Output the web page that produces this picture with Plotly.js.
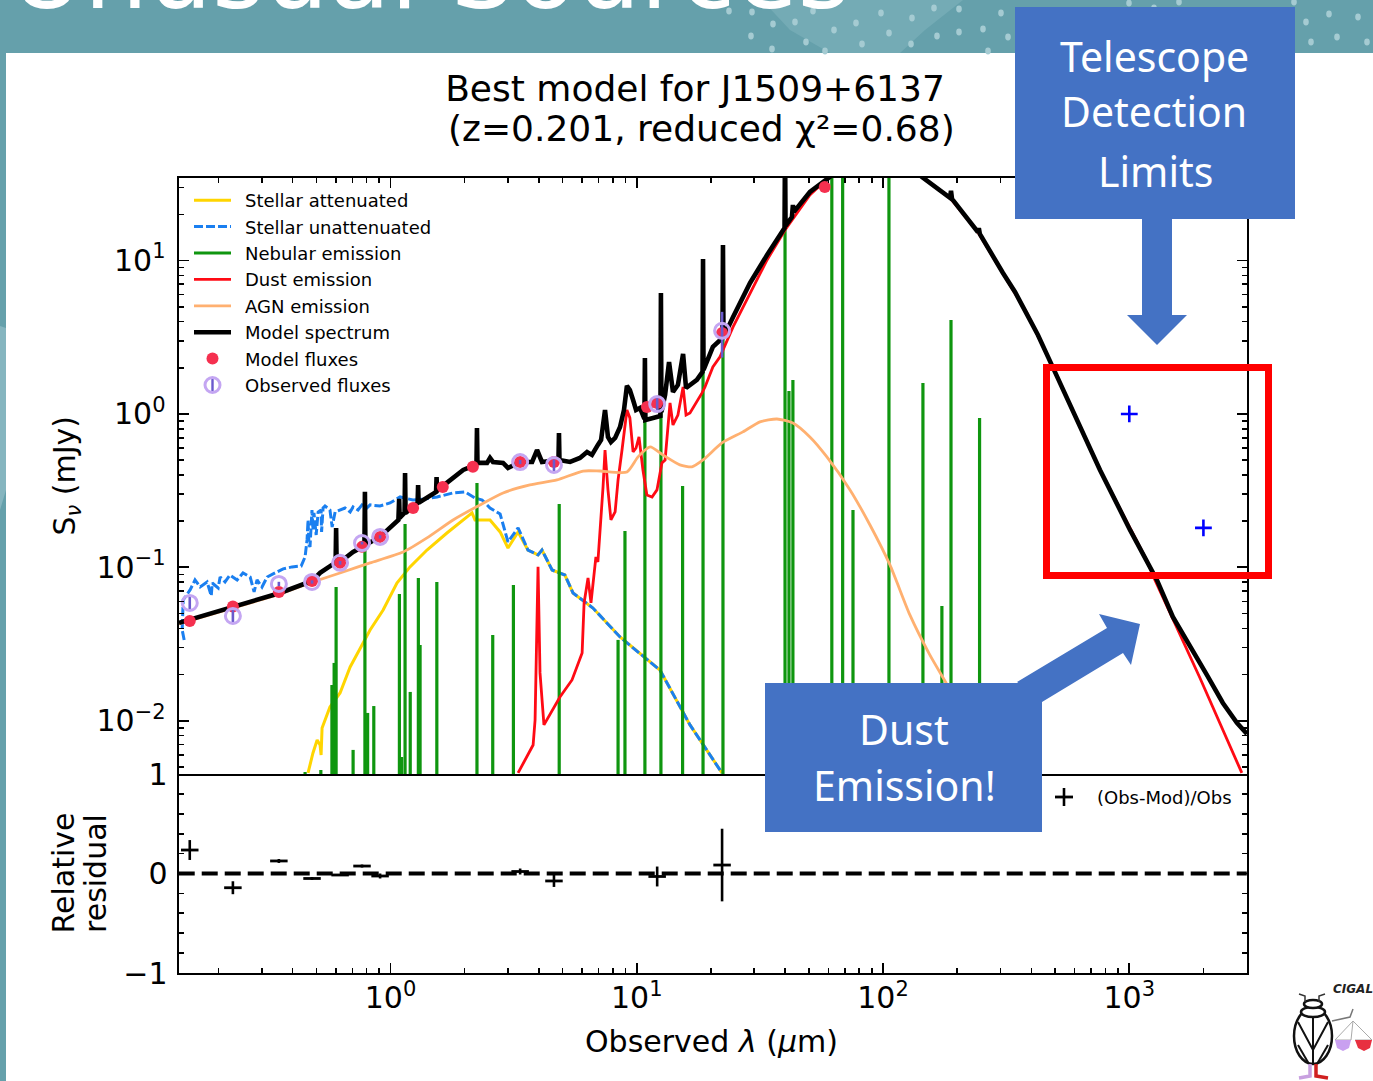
<!DOCTYPE html>
<html>
<head>
<meta charset="utf-8">
<script src="https://cdn.plot.ly/plotly-3.0.1.min.js"></script>
<style>html,body{margin:0;padding:0;background:#fff;overflow:hidden}</style>
</head>
<body>
<div id="chart" style="width:1373px;height:1081px"></div>
<script>
// ---- values: curves in dex (log10 um, log10 mJy) ----
var modelLogWave = [-0.859,-0.818,-0.639,-0.449,-0.319,-0.286,-0.238,-0.223,-0.221,-0.219,-0.205,-0.152,-0.106,-0.104,-0.102,-0.043,0.026,0.032,0.035,0.037,0.057,0.059,0.061,0.091,0.110,0.112,0.114,0.185,0.187,0.189,0.213,0.295,0.335,0.349,0.351,0.353,0.392,0.404,0.416,0.457,0.477,0.526,0.575,0.595,0.615,0.660,0.682,0.684,0.686,0.729,0.769,0.798,0.818,0.842,0.855,0.871,0.883,0.895,0.912,0.932,0.948,0.960,0.972,0.985,0.997,1.013,1.031,1.033,1.035,1.066,1.096,1.098,1.100,1.115,1.131,1.147,1.167,1.188,1.200,1.244,1.267,1.269,1.271,1.309,1.348,1.350,1.352,1.391,1.460,1.529,1.600,1.602,1.604,1.630,1.634,1.638,1.703,1.784,1.866,1.967,2.068,2.158,2.272,2.276,2.280,2.385,2.389,2.393,2.434,2.487,2.536,2.584,2.629,2.670,2.779,2.881,3.003,3.071,3.112,3.177,3.246,3.315,3.380,3.437,3.478];
var modelLogFlux = [-1.362,-1.343,-1.258,-1.167,-1.089,-1.036,-0.984,-0.971,-0.743,-0.965,-0.965,-0.900,-0.860,-0.508,-0.854,-0.802,-0.698,-0.691,-0.554,-0.678,-0.645,-0.385,-0.645,-0.606,-0.580,-0.463,-0.580,-0.508,-0.411,-0.502,-0.469,-0.365,-0.339,-0.326,-0.091,-0.319,-0.319,-0.287,-0.313,-0.319,-0.352,-0.313,-0.313,-0.235,-0.313,-0.306,-0.300,-0.124,-0.300,-0.313,-0.287,-0.248,-0.267,-0.202,-0.170,0.026,-0.150,-0.183,-0.156,-0.085,0.026,0.183,0.156,0.091,0.026,0.039,-0.033,0.365,-0.039,-0.026,-0.013,0.789,0.013,0.124,0.339,0.143,0.189,0.391,0.169,0.222,0.274,1.010,0.287,0.437,0.495,1.102,0.502,0.632,0.854,1.036,1.212,1.786,1.226,1.284,1.362,1.317,1.447,1.545,1.656,1.721,1.669,1.545,1.408,1.454,1.402,1.186,1.212,1.173,1.056,0.919,0.795,0.658,0.515,0.372,-0.007,-0.365,-0.756,-0.952,-1.082,-1.323,-1.519,-1.701,-1.884,-2.014,-2.086];

var dustLogWave = [0.518,0.579,0.587,0.599,0.607,0.623,0.688,0.737,0.778,0.786,0.802,0.814,0.834,0.842,0.863,0.871,0.883,0.895,0.912,0.924,0.940,0.960,0.972,0.985,0.997,1.009,1.025,1.041,1.062,1.082,1.102,1.115,1.135,1.147,1.167,1.188,1.200,1.216,1.265,1.277,1.309,1.338,1.391,1.460,1.529,1.602,1.703,1.772,1.967,2.158,2.272,2.385,2.487,2.584,2.670,2.881,3.071,3.104,3.287,3.457];
var dustLogFlux = [-2.340,-2.158,-1.995,-0.997,-1.688,-2.027,-1.845,-1.734,-1.558,-1.232,-1.069,-1.232,-0.932,-0.965,-0.476,-0.235,-0.495,-0.691,-0.639,-0.430,-0.235,0.026,-0.026,-0.248,-0.222,-0.150,-0.365,-0.528,-0.541,-0.495,-0.319,-0.300,0.072,-0.072,-0.007,0.176,-0.007,0.007,0.137,0.176,0.306,0.372,0.567,0.789,1.004,1.199,1.428,1.532,1.708,1.545,1.408,1.186,0.919,0.658,0.372,-0.365,-0.955,-1.082,-1.721,-2.340];

var attenLogWave = [-0.335,-0.322,-0.315,-0.298,-0.286,-0.282,-0.278,-0.246,-0.205,-0.164,-0.116,-0.083,-0.030,-0.002,0.026,0.079,0.148,0.229,0.282,0.331,0.343,0.404,0.445,0.477,0.518,0.558,0.599,0.615,0.656,0.708,0.741,0.822,0.932,1.054,1.094,1.216,1.346];
var attenLogFlux = [-2.340,-2.255,-2.210,-2.125,-2.158,-2.223,-2.047,-1.910,-1.819,-1.649,-1.506,-1.408,-1.278,-1.193,-1.102,-0.997,-0.887,-0.776,-0.711,-0.645,-0.691,-0.691,-0.769,-0.874,-0.769,-0.887,-0.919,-0.887,-1.017,-1.050,-1.167,-1.265,-1.454,-1.617,-1.669,-2.027,-2.340];

var unattenLogWave = [-0.838,-0.846,-0.842,-0.814,-0.794,-0.773,-0.745,-0.728,-0.724,-0.700,-0.692,-0.672,-0.652,-0.623,-0.599,-0.570,-0.554,-0.542,-0.522,-0.501,-0.469,-0.436,-0.400,-0.363,-0.347,-0.339,-0.335,-0.331,-0.327,-0.319,-0.315,-0.311,-0.302,-0.294,-0.282,-0.280,-0.274,-0.266,-0.246,-0.237,-0.225,-0.185,-0.164,-0.152,-0.132,-0.116,-0.100,-0.083,-0.043,-0.002,0.039,0.091,0.140,0.189,0.254,0.302,0.343,0.372,0.404,0.445,0.477,0.518,0.558,0.599,0.615,0.656,0.708,0.741,0.822,0.932,1.054,1.094,1.216,1.346];
var unattenLogFlux = [-1.473,-1.408,-1.213,-1.147,-1.082,-1.128,-1.095,-1.186,-1.102,-1.134,-1.063,-1.095,-1.050,-1.082,-1.036,-1.063,-1.160,-1.082,-1.128,-1.063,-1.036,-1.010,-0.997,-0.991,-0.932,-0.821,-0.691,-0.854,-0.867,-0.626,-0.756,-0.645,-0.789,-0.639,-0.626,-0.769,-0.613,-0.600,-0.626,-0.737,-0.639,-0.613,-0.639,-0.606,-0.626,-0.593,-0.619,-0.593,-0.600,-0.580,-0.541,-0.561,-0.554,-0.541,-0.515,-0.508,-0.548,-0.561,-0.613,-0.652,-0.834,-0.743,-0.887,-0.919,-0.887,-1.017,-1.050,-1.167,-1.265,-1.454,-1.617,-1.669,-2.027,-2.340];

var agnLogWave = [-0.859,-0.639,-0.449,-0.315,-0.193,-0.083,0.051,0.148,0.254,0.363,0.457,0.566,0.676,0.782,0.851,0.960,1.005,1.054,1.106,1.175,1.224,1.269,1.346,1.431,1.500,1.569,1.634,1.703,1.772,1.866,1.947,2.028,2.109,2.190,2.272,2.333,2.414,2.454];
var agnLogFlux = [-1.369,-1.265,-1.173,-1.095,-1.030,-0.971,-0.900,-0.808,-0.691,-0.593,-0.515,-0.463,-0.430,-0.372,-0.372,-0.378,-0.280,-0.215,-0.267,-0.332,-0.345,-0.300,-0.189,-0.117,-0.052,-0.033,-0.059,-0.150,-0.280,-0.495,-0.724,-0.984,-1.310,-1.571,-1.799,-1.995,-2.256,-2.386];

var nebularLogWave = [-0.347,-0.283,-0.238,-0.229,-0.221,-0.152,-0.104,-0.093,-0.068,0.036,0.045,0.059,0.080,0.113,0.120,0.188,0.351,0.415,0.499,0.685,0.924,0.952,1.033,1.098,1.186,1.269,1.350,1.602,1.618,1.634,1.792,1.836,1.878,2.024,2.162,2.239,2.276,2.392];
var nebularLogPeak = [-2.334,-2.321,-1.767,-1.623,-1.128,-2.190,-0.887,-1.949,-1.904,-1.173,-2.236,-0.717,-1.812,-1.069,-1.506,-1.095,-0.450,-1.441,-1.115,-0.587,-1.473,-0.763,0.117,0.717,-0.469,0.945,0.958,1.786,0.150,0.222,2.047,1.917,-0.626,1.851,0.202,-1.252,0.613,-0.026];

// photometry in real units (um, mJy)
var modelFluxWave = [0.153,0.229,0.352,0.48,0.624,0.766,0.907,1.235,1.63,2.16,3.36,4.61,11.0,12.1,22.2,58];
var modelFluxVal  = [0.0447,0.0556,0.0691,0.0815,0.107,0.136,0.158,0.244,0.334,0.452,0.486,0.486,1.11,1.18,3.37,30.2];
var obsWave = [0.153,0.229,0.352,0.48,0.624,0.766,0.907,3.36,4.61,12.1,22.2];
var obsFlux = [0.0586,0.0482,0.0780,0.0803,0.107,0.144,0.158,0.486,0.465,1.16,3.48];
var obsErr  = [0.0065,0.0045,0.0025,0.002,0.003,0.003,0.004,0.015,0.04,0.13,1.15];
var residual    = [0.236,-0.143,0.126,-0.05,-0.015,0.075,-0.025,0.02,-0.075,-0.03,0.085];
var residualErr = [0.10,0.065,0.02,0.015,0.01,0.015,0.025,0.03,0.06,0.10,0.365];
var limitWave = [1000,2000];
var limitFlux = [1.0,0.181];

var xTickVals = [1,10,100,1000];
var xTickText = ['10<sup>0</sup>','10<sup>1</sup>','10<sup>2</sup>','10<sup>3</sup>'];
var yTickVals = [0.01,0.1,1,10];
var yTickText = ['10<sup>\u22122</sup>','10<sup>\u22121</sup>','10<sup>0</sup>','10<sup>1</sup>'];

// ---- helpers ----
function pow10(a){return a.map(function(v){return Math.pow(10,v);});}
var W=1373,H=1081;
function px(x){return x/W;}
function py(y){return 1-y/H;}
function rect(x0,y0,x1,y1,fill,extra){
  return Object.assign({type:'rect',xref:'paper',yref:'paper',x0:px(x0),x1:px(x1),y0:py(y0),y1:py(y1),fillcolor:fill,line:{width:0},layer:'above'},extra||{});
}
function poly(points,fill,close,lineColor,lineWidth){
  var d=points.map(function(p,i){return (i?'L':'M')+px(p[0])+','+py(p[1]);}).join(' ')+(close===false?'':' Z');
  return {type:'path',xref:'paper',yref:'paper',path:d,fillcolor:fill||'rgba(0,0,0,0)',line:{color:lineColor||fill,width:lineWidth||0},layer:'above'};
}
function ellipse(cx,cy,rx,ry,fill,lineColor,lineWidth){
  return {type:'circle',xref:'paper',yref:'paper',x0:px(cx-rx),x1:px(cx+rx),y0:py(cy+ry),y1:py(cy-ry),fillcolor:fill,line:{color:lineColor||fill,width:lineWidth||0},layer:'above'};
}
var FONT='DejaVu Sans';
function note(x,y,text,size,color,extra){
  return Object.assign({xref:'paper',yref:'paper',x:px(x),y:py(y),text:text,showarrow:false,xanchor:'center',yanchor:'middle',
    font:{family:FONT,size:size,color:color||'#000'}},extra||{});
}

// nebular lines drawn as vertical sticks
var nebX=[],nebY=[];
nebularLogWave.forEach(function(w,i){
  var l=Math.pow(10,w);
  nebX.push(l,l,null); nebY.push(0.001,Math.pow(10,nebularLogPeak[i]),null);
});

var traces=[
 {name:'\u2002Stellar attenuated',x:pow10(attenLogWave),y:pow10(attenLogFlux),xaxis:'x2',yaxis:'y2',mode:'lines',line:{color:'#ffd500',width:3}},
 {name:'\u2002Stellar unattenuated',x:pow10(unattenLogWave),y:pow10(unattenLogFlux),xaxis:'x2',yaxis:'y2',mode:'lines',line:{color:'#1a7ff0',width:3,dash:'9px,3px'}},
 {name:'\u2002Nebular emission',x:nebX,y:nebY,xaxis:'x2',yaxis:'y2',mode:'lines',line:{color:'#0f960f',width:3.2},connectgaps:false},
 {name:'\u2002Dust emission',x:pow10(dustLogWave),y:pow10(dustLogFlux),xaxis:'x2',yaxis:'y2',mode:'lines',line:{color:'#ff0a14',width:2.8}},
 {name:'\u2002AGN emission',x:pow10(agnLogWave),y:pow10(agnLogFlux),xaxis:'x2',yaxis:'y2',mode:'lines',line:{color:'#ffb070',width:2.8,shape:'spline',smoothing:0.6}},
 {name:'\u2002Model spectrum',x:pow10(modelLogWave),y:pow10(modelLogFlux),xaxis:'x2',yaxis:'y2',mode:'lines',line:{color:'#000',width:4.6}},
 {name:'\u2002Model fluxes',x:modelFluxWave,y:modelFluxVal,xaxis:'x2',yaxis:'y2',mode:'markers',marker:{color:'#f5304f',size:12}},
 {name:'\u2002Observed fluxes',x:obsWave,y:obsFlux,xaxis:'x2',yaxis:'y2',mode:'markers',
  marker:{symbol:'circle-open',color:'#c4a6f2',size:15,line:{color:'#c4a6f2',width:3}},
  error_y:{type:'data',array:obsErr,color:'#6a5acd',thickness:2.6,width:0}},
 {name:'Detection limits',showlegend:false,x:limitWave,y:limitFlux,xaxis:'x2',yaxis:'y2',mode:'markers',
  marker:{symbol:'cross-thin',size:12,line:{color:'#0000ff',width:2.6},color:'#0000ff'}},
 {name:'(Obs-Mod)/Obs',showlegend:false,x:obsWave,y:residual,xaxis:'x',yaxis:'y',mode:'markers',
  marker:{symbol:'line-ew',size:12.5,line:{color:'#000',width:2.8},color:'#000'},
  error_y:{type:'data',array:residualErr,color:'#000',thickness:2.6,width:0}},
 {name:'zero',showlegend:false,x:[0.138,3000],y:[0,0],xaxis:'x',yaxis:'y',mode:'lines',line:{color:'#000',width:4,dash:'16px,7px'}}
];

var xMinor=[];
[0.1,1,10,100,1000].forEach(function(d){for(var k=2;k<=9;k++){var v=d*k;if(v>0.138&&v<3000)xMinor.push(v);}});
var yMinor=[];
[0.001,0.01,0.1,1,10].forEach(function(d){for(var k=2;k<=9;k++){var v=d*k;if(v>0.0045&&v<34)yMinor.push(v);}});

var minorTicks={ticks:'inside',ticklen:5,tickwidth:1.6,tickcolor:'#000',showgrid:false};
var axisCommon={showline:true,linecolor:'#000',linewidth:2.4,ticks:'inside',ticklen:10,tickwidth:1.8,tickcolor:'#000',
  showgrid:false,zeroline:false,tickfont:{family:FONT,size:30,color:'#000'}};

var layout={
 width:W,height:H,margin:{l:0,r:0,t:0,b:0},paper_bgcolor:'#fff',plot_bgcolor:'rgba(0,0,0,0)',
 title:{text:'Best model for J1509+6137',x:px(695),xanchor:'center',xref:'paper',y:py(88.5),yanchor:'middle',yref:'paper',font:{family:FONT,size:36,color:'#000'}},
 showlegend:true,
 legend:{x:px(189),y:py(182),xanchor:'left',yanchor:'top',bgcolor:'rgba(0,0,0,0)',borderwidth:0,itemwidth:37,traceorder:'normal',
   font:{family:FONT,size:18,color:'#000'},itemclick:false,itemdoubleclick:false},
 xaxis:Object.assign({},axisCommon,{type:'log',range:[-0.859,3.478],domain:[px(179),px(1247)],anchor:'y',mirror:false,ticklabelstandoff:-3,
   tickvals:xTickVals,ticktext:xTickText,minor:Object.assign({tickvals:xMinor},minorTicks)}),
 yaxis:Object.assign({},axisCommon,{range:[-1,1],domain:[1-973/H,1-774/H],anchor:'x',mirror:'ticks',ticklabelstandoff:3,tickvals:[-1,0,1],ticktext:['\u22121','0','1'],
   minor:Object.assign({dtick:0.2},minorTicks)}),
 xaxis2:Object.assign({},axisCommon,{type:'log',side:'top',range:[-0.859,3.478],domain:[px(179),px(1247)],anchor:'y2',matches:'x',mirror:true,showticklabels:false,
   tickvals:xTickVals,minor:Object.assign({tickvals:xMinor},minorTicks)}),
 yaxis2:Object.assign({},axisCommon,{type:'log',range:[-2.347,1.538],domain:[1-774/H,1-178/H],anchor:'x2',mirror:'ticks',ticklabelstandoff:5,
   tickvals:yTickVals,ticktext:yTickText,minor:Object.assign({tickvals:yMinor},minorTicks)}),
 shapes:[],annotations:[]
};

// slide decoration: banner, left strip, dots
var s=layout.shapes;
s.push(rect(0,0,W,53,'#65a0ab'));
s.push(rect(0,53,6,H,'#65a0ab'));
s.push(poly([[0,326],[6,328],[6,490],[0,510]],'#85b5bf'));
s.push(poly([[762,0],[963,0],[925,30],[900,53],[830,53],[790,30]],'#74abb5'));
[[729,11],[752,12],[813,11],[881,13],[934,8],[959,9],[1001,13],[912,18],[856,23],[773,24],[795,22],[1306,22],[1329,14],[1358,17],[751,36],[834,30],[889,33],[937,36],[959,32],[983,29],[1008,37],[806,42],[862,44],[911,44],[1311,42],[1337,37],[1367,42],[772,49],[825,51],[988,51],[1129,3],[1154,8],[1179,2],[1294,2]].forEach(function(p){
  s.push(ellipse(p[0],p[1],2.8,3.4,'#a5cbd2'));
});
// callouts
s.push(rect(1015,7,1295,219,'#4472c4'));
s.push(poly([[1142,219],[1172,219],[1172,315],[1187,315],[1157,345],[1127,315],[1142,315]],'#4472c4'));
s.push(poly([[1017,682],[1107,628],[1099,614],[1140,624],[1131,665],[1123,653],[1042,702]],'#4472c4'));
s.push(rect(765,683,1042,832,'#4472c4'));
s.push({type:'rect',xref:'paper',yref:'paper',x0:px(1046.5),x1:px(1268.5),y0:py(367.5),y1:py(575.5),line:{color:'#ff0000',width:7},fillcolor:'rgba(0,0,0,0)',layer:'above'});
// observed legend error bar, residual legend plus
s.push(poly([[212.5,378],[212.5,392]],null,false,'#6a5acd',2.4));
s.push(poly([[1055,797],[1073,797]],null,false,'#000',2.8));
s.push(poly([[1064,788],[1064,806]],null,false,'#000',2.6));
// CIGALE logo
s.push(ellipse(1313,1036,19,28,'#ffffff','#111',2.5));
s.push(poly([[1313,1012],[1313,1064]],null,false,'#111',2));
s.push(poly([[1298,1022],[1313,1050],[1328,1022]],null,false,'#111',2));
s.push(poly([[1298,1045],[1309,1064]],null,false,'#111',2));
s.push(poly([[1328,1045],[1317,1064]],null,false,'#111',2));
s.push(ellipse(1313,1012,12,5,'#ffffff','#111',2.5));
s.push(ellipse(1313,1004,9,4,'#ffffff','#111',2.5));
s.push(poly([[1305,1002],[1305,996],[1299,994]],null,false,'#333',1.5));
s.push(poly([[1319,1002],[1319,996],[1325,994]],null,false,'#333',1.5));
s.push(poly([[1310,1064],[1310,1076],[1299,1078]],null,false,'#c8a0e0',3.5));
s.push(poly([[1316,1064],[1316,1076],[1328,1078]],null,false,'#d02020',3.5));
s.push(poly([[1332,1021],[1350,1017],[1353,1009]],null,false,'#777',1.5));
s.push(poly([[1353,1021],[1335,1040],[1351,1040],[1353,1021],[1372,1040],[1355,1040]],null,false,'#aaa',1));
s.push(poly([[1335,1040],[1351,1040],[1349,1048],[1343,1051],[1337,1048]],'#c9a0f0'));
s.push(poly([[1355,1040],[1372,1040],[1370,1048],[1364,1051],[1358,1048]],'#e83040'));

// annotations
var a=layout.annotations;
var calloutFont={family:'Noto Sans',size:41,color:'#fff'};
a.push(note(430,-27,'Unusual Sources',101,'#ffffff'));
a.push(note(701,128.5,'(z=0.201, reduced \u03c7\u00b2=0.68)',36));
a.push(note(1154,56,'Telescope',41,'#fff',{font:calloutFont}));
a.push(note(1154,111,'Detection',41,'#fff',{font:calloutFont}));
a.push(note(1155,171,'Limits',41,'#fff',{font:calloutFont}));
a.push(note(904,729,'Dust',41,'#fff',{font:calloutFont}));
a.push(note(904,785,'Emission!',41,'#fff',{font:calloutFont}));
a.push(note(1164,797,'(Obs-Mod)/Obs',18));
a.push(note(1353,989,'<b><i>CIGAL</i></b>',12,'#222'));
a.push(note(711.5,1041,'Observed <i>\u03bb</i> (<i>\u00b5</i>m)',30));
a.push(note(65.5,476,'S<sub><i>\u03bd</i></sub> (mJy)',30,'#000',{textangle:-90}));
a.push(note(62.5,873,'Relative',30,'#000',{textangle:-90}));
a.push(note(95.5,873.5,'residual',30,'#000',{textangle:-90}));

Plotly.newPlot('chart',traces,layout,{displayModeBar:false,staticPlot:true});
</script>
</body>
</html>
